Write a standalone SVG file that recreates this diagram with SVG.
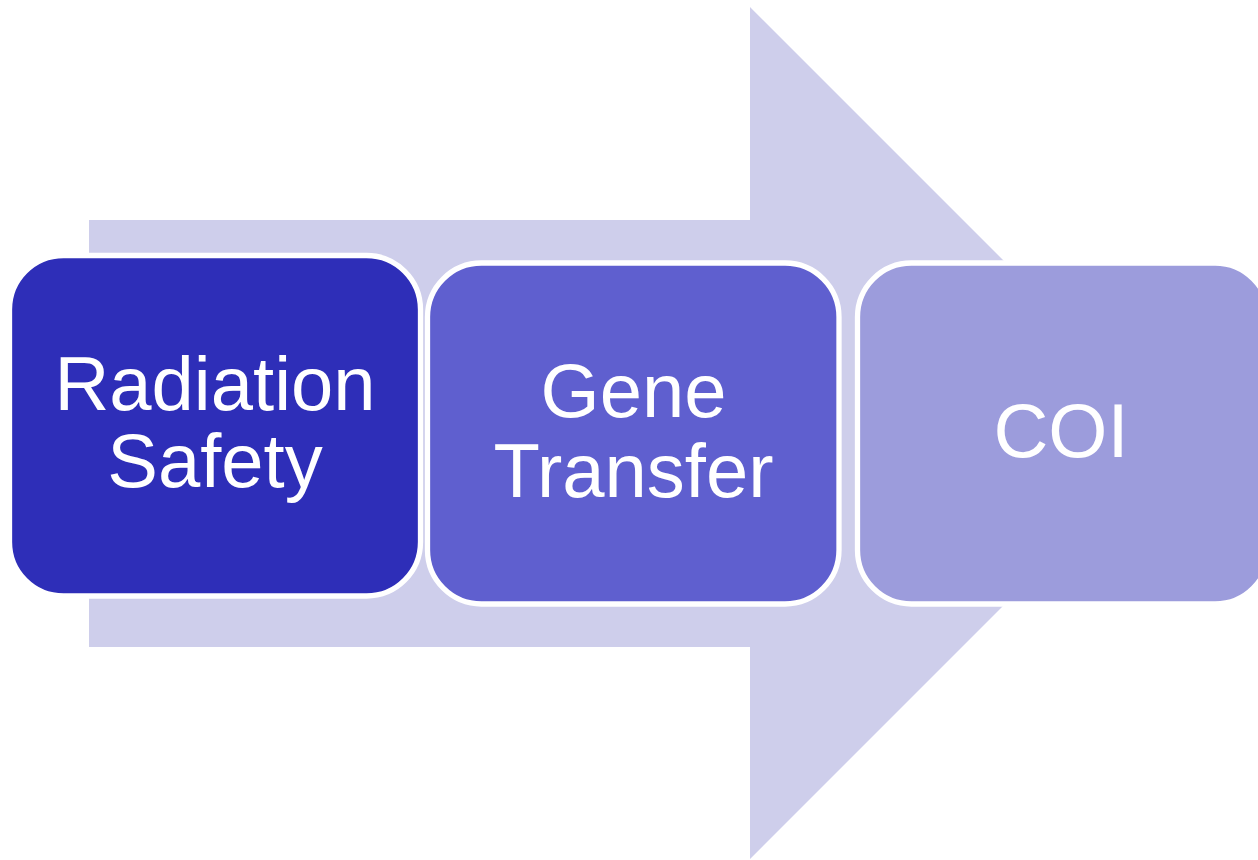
<svg xmlns="http://www.w3.org/2000/svg" width="1258" height="860" viewBox="0 0 1258 860">
<style>
.box{stroke:#FFFFFF;stroke-width:5.3}
.lbl{font-family:"Liberation Sans",Arial,sans-serif;font-size:76px;fill:#FFFFFF;text-anchor:middle}
</style>
<rect width="1258" height="860" fill="#FFFFFF"/>
<g id="connectors">
<polygon id="big-arrow" points="89,220 750,220 750,7 1176,433 750,859 750,647 89,647" fill="#CECEEB"/>
</g>
<g id="node-radiation">
<rect class="box" x="9.5" y="255.5" width="411" height="340.5" rx="54" fill="#2E2EB8"/>
<text class="lbl" x="215" y="410">Radiation</text>
<text class="lbl" x="215" y="487">Safety</text>
</g>
<g id="node-gene">
<rect class="box" x="427.5" y="263" width="411.5" height="341" rx="54" fill="#5F5FCF"/>
<text class="lbl" x="633.5" y="417">Gene</text>
<text class="lbl" x="633.5" y="497">Transfer</text>
</g>
<g id="node-coi">
<rect class="box" x="857.5" y="263" width="411.5" height="341" rx="54" fill="#9C9CDC"/>
<text class="lbl" x="1061" y="457">COI</text>
</g>
</svg>
